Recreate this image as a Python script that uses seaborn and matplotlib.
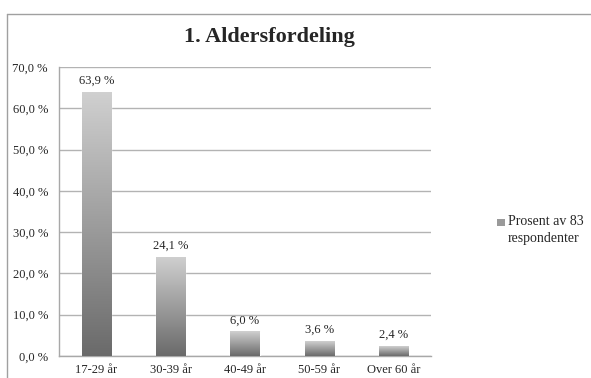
import numpy as np
import pandas as pd
import matplotlib
matplotlib.use("Agg")
import matplotlib.pyplot as plt
from matplotlib.colors import LinearSegmentedColormap
from matplotlib.patches import Rectangle
import seaborn as sns

# data
categories = ['17-29 år', '30-39 år', '40-49 år', '50-59 år', 'Over 60 år']
prosent = [63.9, 24.1, 6.0, 3.6, 2.4]
serie_navn = 'Prosent av 83\nrespondenter'
yticks = [0, 10, 20, 30, 40, 50, 60, 70]

df = pd.DataFrame({'alder': categories, 'prosent': prosent})

sns.set_style('white')
plt.rcParams['font.family'] = ['Liberation Serif', 'DejaVu Serif']

fig = plt.figure(figsize=(5.91, 3.78), dpi=100)
ax = fig.add_axes([59 / 591, 1 - 356 / 378, (431 - 59) / 591, (356 - 67) / 378])

sns.barplot(data=df, x='alder', y='prosent', color='#a0a0a0', width=0.39,
            ax=ax, zorder=3)

# gradient fill på hver søyle
cmap = LinearSegmentedColormap.from_list('grad', ['#6a6a6a', '#d0d0d0'])
grad = np.linspace(0, 1, 256).reshape(-1, 1)
for p in ax.patches:
    x0, y0 = p.get_x(), p.get_y()
    w, h = p.get_width(), p.get_height()
    im = ax.imshow(grad, cmap=cmap, aspect='auto', origin='lower',
                   extent=[x0, x0 + w, y0, y0 + h], zorder=4)
    im.set_clip_path(p)
    ax.text(x0 + w / 2, h + 1.2, f'{h:.1f} %'.replace('.', ','),
            ha='center', va='bottom', fontsize=9, zorder=5)

ax.set_xlim(-0.5, len(categories) - 0.5)
ax.set_ylim(0, 70)
ax.set_yticks(yticks)
ax.set_yticklabels([f'{v:.1f} %'.replace('.', ',') for v in yticks], fontsize=9)
ax.set_xticks(range(len(categories)))
ax.set_xticklabels(categories, fontsize=9)
ax.set_xticks(np.arange(-0.5, len(categories)), minor=True)
ax.tick_params(axis='x', which='major', length=0, pad=6)
ax.tick_params(axis='x', which='minor', length=4, color='#a0a0a0', direction='out')
ax.tick_params(axis='y', length=5, color='#a0a0a0', direction='out', pad=3)
ax.yaxis.grid(True, color='#b3b3b3', linewidth=1, zorder=0)
ax.set_axisbelow(True)
ax.set_xlabel('')
ax.set_ylabel('')
for s in ['top', 'right']:
    ax.spines[s].set_visible(False)
for s in ['left', 'bottom']:
    ax.spines[s].set_color('#a8a8a8')
    ax.spines[s].set_linewidth(1)

fig.text(0.5 * (185 + 353) / 591, 1 - 37 / 378, '1. Aldersfordeling',
         ha='center', va='center', fontsize=16, fontweight='bold')

# legend
fig.patches.append(Rectangle((497 / 591, 1 - 226 / 378), 8 / 591, 7 / 378,
                             transform=fig.transFigure, facecolor='#9a9a9a',
                             edgecolor='none'))
fig.text(508 / 591, 1 - 215 / 378, serie_navn, ha='left', va='top',
         fontsize=10, linespacing=1.35)

# ramme
fig.add_artist(plt.Line2D([7 / 591, 1], [1 - 14 / 378, 1 - 14 / 378],
                          transform=fig.transFigure, color='#a0a0a0', lw=1))
fig.add_artist(plt.Line2D([7 / 591, 7 / 591], [0, 1 - 14 / 378],
                          transform=fig.transFigure, color='#a0a0a0', lw=1))

fig.savefig('out.png', dpi=100)
